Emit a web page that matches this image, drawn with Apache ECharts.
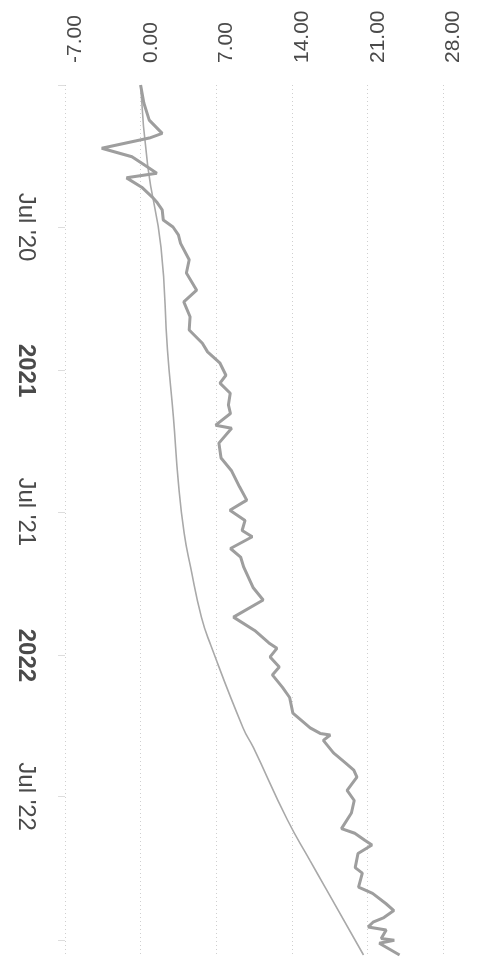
<!DOCTYPE html>
<html>
<head>
<meta charset="utf-8">
<script src="https://cdn.jsdelivr.net/npm/echarts@6/dist/echarts.min.js"></script>
<style>
html,body{margin:0;padding:0;background:#fff;}
#chart{width:485px;height:967px;}
</style>
</head>
<body>
<div id="chart"></div>
<script>
// Returns series (percent)
var returnDates = ['2020-01-01','2020-01-24','2020-02-15','2020-03-03','2020-03-09','2020-03-22','2020-04-02','2020-04-13','2020-04-23','2020-04-29','2020-05-11','2020-05-24','2020-05-31','2020-06-09','2020-06-22','2020-07-01','2020-07-11','2020-07-22','2020-08-12','2020-08-29','2020-09-20','2020-10-05','2020-10-24','2020-11-10','2020-11-27','2020-12-08','2020-12-22','2021-01-07','2021-01-17','2021-01-30','2021-02-14','2021-02-25','2021-03-12','2021-03-16','2021-04-04','2021-04-23','2021-05-09','2021-05-30','2021-06-16','2021-06-29','2021-07-12','2021-07-25','2021-08-02','2021-08-17','2021-08-28','2021-09-10','2021-10-06','2021-10-22','2021-11-13','2021-11-30','2021-12-16','2021-12-23','2022-01-03','2022-01-16','2022-01-26','2022-02-11','2022-02-24','2022-03-16','2022-04-04','2022-04-11','2022-04-13','2022-04-20','2022-05-06','2022-05-19','2022-05-28','2022-06-06','2022-06-23','2022-07-06','2022-07-22','2022-08-11','2022-08-17','2022-08-26','2022-09-01','2022-09-12','2022-09-30','2022-10-07','2022-10-25','2022-11-02','2022-11-15','2022-11-24','2022-12-03','2022-12-09','2022-12-15','2022-12-19','2022-12-30','2023-01-01','2023-01-05','2023-01-20'];
var returnValues = [0.0,0.3,0.8,2.0,0.8,-3.6,-0.8,0.4,1.5,-1.3,0.1,1.1,1.55,2.0,2.1,3.0,3.5,3.7,4.5,4.24,5.19,4.0,4.58,4.5,5.72,6.2,7.33,7.9,7.35,8.3,8.13,8.32,6.95,8.43,7.25,7.45,8.4,9.16,9.83,8.27,9.67,9.4,10.34,8.32,9.26,9.55,10.41,11.35,8.6,10.56,11.88,12.62,11.99,12.84,12.2,13.14,13.8,14.1,15.7,16.63,17.56,16.92,17.86,18.99,19.74,20.03,19.12,19.78,19.52,18.6,19.83,20.76,21.42,20.13,19.87,20.53,20.18,21.48,22.7,23.45,22.53,21.52,21.07,22.74,22.28,23.49,22.1,23.98];

// Smooth benchmark curve
var benchDates = ['2020-01-01','2020-04-15','2020-07-27','2020-12-06','2021-03-02','2021-05-25','2021-07-28','2021-09-10','2021-11-13','2021-12-19','2022-04-04','2022-04-29','2022-07-31','2022-09-21','2022-10-26','2023-01-20'];
var benchValues = [0,0.67,1.89,2.49,3.04,3.5,4.03,4.63,5.63,6.5,9.49,10.44,13.6,15.69,17.12,20.64];

// Axis labels
var valueTicks = [-7, 0, 7, 14, 21, 28];
var timeTickKeys = ['2020-07', '2021-01', '2021-07', '2022-01', '2022-07'];
var timeTickLabels = ["Jul '20", '2021', "Jul '21", '2022', "Jul '22"];

function pairs(d, v) { return d.map(function (x, i) { return [x, v[i]]; }); }

var chart = echarts.init(document.getElementById('chart'), null, {renderer: 'canvas'});
var font = "'Liberation Sans', Arial, sans-serif";
chart.setOption({
  animation: false,
  backgroundColor: '#ffffff',
  grid: {left: 65, right: 42, top: 85, bottom: 12, containLabel: false},
  xAxis: {
    type: 'value',
    position: 'top',
    min: valueTicks[0],
    max: valueTicks[valueTicks.length - 1],
    interval: 7,
    axisLine: {show: false, onZero: false},
    axisTick: {show: false},
    axisLabel: {
      rotate: -90,
      margin: 22,
      fontSize: 21,
      color: '#4a4a4a',
      fontFamily: font,
      verticalAlign: 'top',
      formatter: function (v) { return v.toFixed(2); }
    },
    splitLine: {show: true, lineStyle: {color: '#cfcfcf', type: [1, 3], width: 1}}
  },
  yAxis: {
    type: 'time',
    inverse: true,
    position: 'left',
    min: '2020-01-01',
    max: '2023-01-20',
    axisLine: {show: false, onZero: false},
    axisTick: {show: true, length: 7, lineStyle: {color: '#dddddd'}},
    splitLine: {show: false},
    axisLabel: {
      rotate: -90,
      margin: 27,
      fontSize: 24,
      color: '#4a4a4a',
      fontFamily: font,
      hideOverlap: false,
      formatter: function (val) {
        var d = new Date(val);
        var key = d.getFullYear() + '-' + String(d.getMonth() + 1).padStart(2, '0');
        var i = timeTickKeys.indexOf(key);
        if (i < 0 || d.getDate() !== 1) return '';
        var t = timeTickLabels[i];
        return t.indexOf('Jul') === 0 ? t : '{b|' + t + '}';
      },
      rich: {b: {fontWeight: 'bold', fontSize: 24, fontFamily: font, color: '#4a4a4a'}}
    }
  },
  series: [
    {
      name: 'Benchmark',
      type: 'line',
      smooth: true,
      showSymbol: false,
      data: pairs(benchDates, benchValues),
      encode: {x: 1, y: 0},
      lineStyle: {color: '#a9a9a9', width: 1.6},
      z: 2
    },
    {
      name: 'Return',
      type: 'line',
      showSymbol: false,
      data: pairs(returnDates, returnValues),
      encode: {x: 1, y: 0},
      lineStyle: {color: '#9e9e9e', width: 3},
      z: 3
    }
  ]
});
</script>
</body>
</html>
